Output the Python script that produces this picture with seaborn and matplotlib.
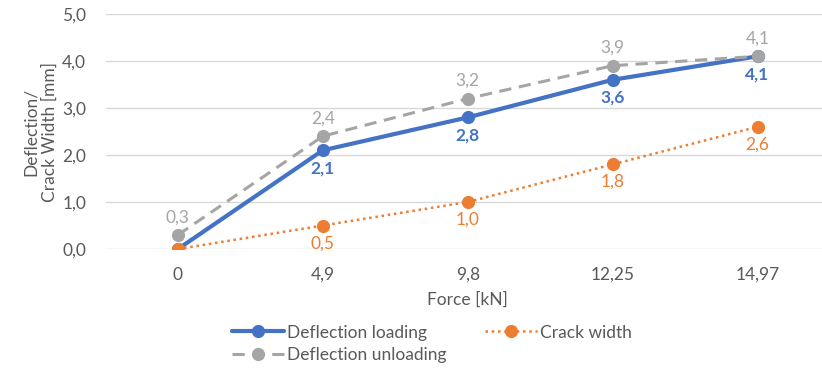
import matplotlib
matplotlib.use("Agg")
import matplotlib.pyplot as plt
import seaborn as sns
import pandas as pd

forces = ["0", "4,9", "9,8", "12,25", "14,97"]
deflection_loading = [0.0, 2.1, 2.8, 3.6, 4.1]
deflection_unloading = [0.3, 2.4, 3.2, 3.9, 4.1]
crack_width = [0.0, 0.5, 1.0, 1.8, 2.6]
y_ticks = [0, 1, 2, 3, 4, 5]

sns.set_theme(style="white")
plt.rcParams['font.family'] = ['Lato', 'DejaVu Sans']

BLUE = "#4472C4"
ORANGE = "#ED7D31"
GRAY = "#A5A5A5"
TXT = "#595959"
FS = 12.5

df = pd.DataFrame({
    "x": list(range(len(forces))) * 3,
    "y": deflection_loading + crack_width + deflection_unloading,
    "series": ["Deflection loading"] * 5 + ["Crack width"] * 5 + ["Deflection unloading"] * 5,
})

fig = plt.figure(figsize=(8.22, 3.70), dpi=100)
ax = fig.add_axes([105.5 / 822, 1 - 249 / 370, (830 - 105.5) / 822, (249 - 14) / 370])

for y in y_ticks:
    ax.axhline(y, color="#D9D9D9", lw=1, zorder=0)

styles = {
    "Deflection loading": dict(color=BLUE, ls="-", lw=3, z=2),
    "Crack width": dict(color=ORANGE, ls=(0, (1, 1.5)), lw=1.8, z=3),
    "Deflection unloading": dict(color=GRAY, ls=(0, (4, 2.5)), lw=2.2, z=4),
}
handles = {}
for name in ["Deflection loading", "Crack width", "Deflection unloading"]:
    st = styles[name]
    sub = df[df.series == name]
    sns.lineplot(data=sub, x="x", y="y", ax=ax, color=st["color"], linewidth=st["lw"],
                 linestyle=st["ls"], marker="o", markersize=9.5, markeredgewidth=0,
                 zorder=st["z"], legend=False)
    handles[name] = plt.Line2D([], [], color=st["color"], lw=st["lw"], ls=st["ls"],
                               marker="o", markersize=9.5, markeredgewidth=0)

# data labels
for i, v in enumerate(deflection_unloading):
    ax.annotate(f"{v:.1f}".replace(".", ","), (i, v), xytext=(0, 7), textcoords="offset points",
                ha="center", va="bottom", color=GRAY, fontsize=FS)
for i, v in enumerate(deflection_loading):
    if i == 0:
        continue
    ax.annotate(f"{v:.1f}".replace(".", ","), (i, v), xytext=(0, -7), textcoords="offset points",
                ha="center", va="top", color=BLUE, fontsize=FS, fontweight="bold")
for i, v in enumerate(crack_width):
    if i == 0:
        continue
    ax.annotate(f"{v:.1f}".replace(".", ","), (i, v), xytext=(0, -7), textcoords="offset points",
                ha="center", va="top", color=ORANGE, fontsize=FS)

ax.set_xlim(-0.5, 4.5)
ax.set_ylim(0, 5)
ax.set_xticks(range(len(forces)))
ax.set_xticklabels(forces)
ax.set_yticks(y_ticks)
ax.set_yticklabels([f"{t:.1f}".replace(".", ",") for t in y_ticks])
ax.tick_params(axis="x", colors=TXT, labelsize=FS, length=0, pad=13)
ax.tick_params(axis="y", colors=TXT, labelsize=FS, length=0, pad=14)
ax.set_xlabel("Force [kN]", color=TXT, fontsize=FS, labelpad=6)
ax.set_ylabel("Deflection/\nCrack Width [mm]", color=TXT, fontsize=FS, labelpad=3)
for s in ax.spines.values():
    s.set_visible(False)

leg = fig.legend([handles["Deflection loading"], handles["Deflection unloading"], handles["Crack width"]],
                 ["Deflection loading", "Deflection unloading", "Crack width"],
                 ncol=2, loc="center", bbox_to_anchor=(432 / 822, 1 - 344 / 370),
                 frameon=False, fontsize=FS, handlelength=3.0, columnspacing=2.2,
                 handletextpad=0.2, labelspacing=0.4, labelcolor=TXT)

fig.savefig("out.png", dpi=100)
